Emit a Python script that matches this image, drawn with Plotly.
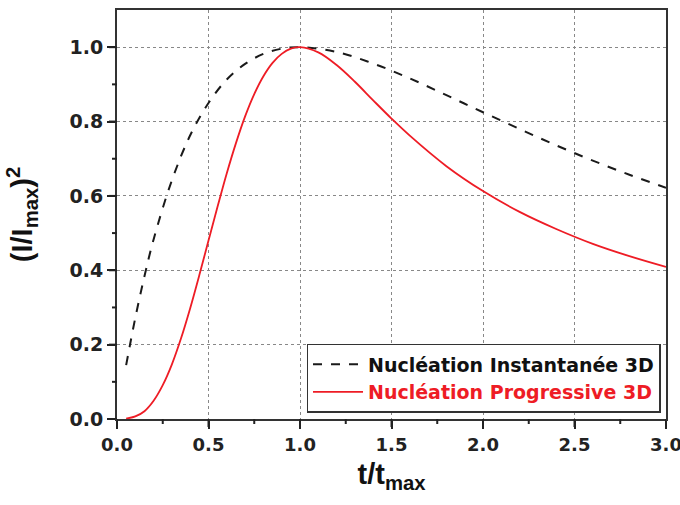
import plotly.graph_objects as go

# t/tmax sample points and read-off values
t_inst = [0.05, 0.1, 0.15, 0.2, 0.3, 0.4, 0.5, 0.6, 0.7, 0.8, 0.9, 1.0,
          1.2, 1.4, 1.6, 1.8, 2.0, 2.2, 2.4, 2.6, 2.8, 3.0]
y_inst = [0.145, 0.272, 0.384, 0.483, 0.642, 0.763, 0.850, 0.913, 0.955, 0.982, 0.996, 1.000,
          0.987, 0.956, 0.916, 0.871, 0.825, 0.780, 0.736, 0.695, 0.657, 0.622]

t_prog = [0.05, 0.1, 0.15, 0.2, 0.25, 0.3, 0.35, 0.4, 0.45, 0.5, 0.55, 0.6, 0.65, 0.7,
          0.75, 0.8, 0.85, 0.9, 0.95, 1.0, 1.1, 1.2, 1.3, 1.4, 1.5, 1.6, 1.8, 2.0,
          2.2, 2.4, 2.6, 2.8, 3.0]
y_prog = [0.001, 0.007, 0.021, 0.049, 0.091, 0.147, 0.217, 0.298, 0.387, 0.480, 0.572,
          0.661, 0.742, 0.814, 0.874, 0.922, 0.958, 0.982, 0.996, 1.000, 0.986, 0.952,
          0.907, 0.857, 0.808, 0.762, 0.680, 0.613, 0.557, 0.511, 0.471, 0.438, 0.409]

x_ticks = [0.0, 0.5, 1.0, 1.5, 2.0, 2.5, 3.0]
x_minor = [0.25, 0.75, 1.25, 1.75, 2.25, 2.75]
y_ticks = [0.0, 0.2, 0.4, 0.6, 0.8, 1.0]
y_minor = [0.1, 0.3, 0.5, 0.7, 0.9]

FONT = "DejaVu Sans"
TFONT = "Liberation Sans"
W, H = 680, 505
ML, MR, MT, MB = 117, 14, 10, 86
PW, PH = W - ML - MR, H - MT - MB
TICKC = "#222222"

fig = go.Figure()
fig.add_trace(go.Scatter(
    x=t_inst, y=y_inst, mode="lines", line_shape="spline",
    line=dict(color="#1a1a1a", width=2, dash="dash"),
    name="<b>Nucléation Instantanée 3D</b>"))
fig.add_trace(go.Scatter(
    x=t_prog, y=y_prog, mode="lines", line_shape="spline",
    line=dict(color="#ee1c25", width=1.8),
    name="<b><span style='color:#ee1c25'>Nucléation Progressive 3D</span></b>"))

fig.update_xaxes(
    range=[0, 3.0], tickmode="array", tickvals=x_ticks,
    ticktext=[f"<b>{v:.1f}</b>" for v in x_ticks],
    ticks="outside", ticklen=8, tickwidth=2, tickcolor=TICKC,
    showline=True, linecolor="#333333", linewidth=2, mirror=True,
    showgrid=True, gridcolor="#888888", griddash="dot", gridwidth=1,
    zeroline=False, automargin=False, ticklabeloverflow="allow",
    tickfont=dict(family=FONT, size=18, color="#222222"),
    title=dict(text="<b>t/t<sub>max</sub></b>",
               font=dict(family=TFONT, size=29, color="#111111"), standoff=10))
fig.update_yaxes(
    range=[0, 1.1], tickmode="array", tickvals=y_ticks,
    ticktext=[f"<b>{v:.1f}</b>" for v in y_ticks],
    ticks="outside", ticklen=8, tickwidth=2, tickcolor=TICKC,
    showline=True, linecolor="#333333", linewidth=2, mirror=True,
    showgrid=True, gridcolor="#888888", griddash="dot", gridwidth=1,
    zeroline=False, automargin=False, ticklabeloverflow="allow",
    tickfont=dict(family=FONT, size=19, color="#222222"),
    title=dict(text="<b>(I/I<sub>max</sub>)<sup>2</sup></b>",
               font=dict(family=TFONT, size=29, color="#111111"), standoff=28))

# explicit tick marks (major and minor), positioned by the axes' own values
for vals, ln in ((x_ticks, 8), (x_minor, 5)):
    for v in vals:
        fig.add_shape(type="line", xref="x", yref="paper", x0=v, x1=v,
                      y0=0, y1=-ln / PH, line=dict(color=TICKC, width=2), layer="above")
for vals, ln in ((y_ticks, 8), (y_minor, 5)):
    for v in vals:
        fig.add_shape(type="line", xref="paper", yref="y", x0=0, x1=-ln / PW,
                      y0=v, y1=v, line=dict(color=TICKC, width=2), layer="above")

fig.update_layout(
    width=W, height=H,
    margin=dict(l=ML, r=MR, t=MT, b=MB),
    plot_bgcolor="white", paper_bgcolor="white",
    showlegend=True,
    legend=dict(x=0.99, y=0.015, xanchor="right", yanchor="bottom",
                bordercolor="#333333", borderwidth=1.5, bgcolor="white",
                font=dict(family=FONT, size=19, color="#111111"),
                itemwidth=50, tracegroupgap=0),
)

fig.write_html("out.html")
